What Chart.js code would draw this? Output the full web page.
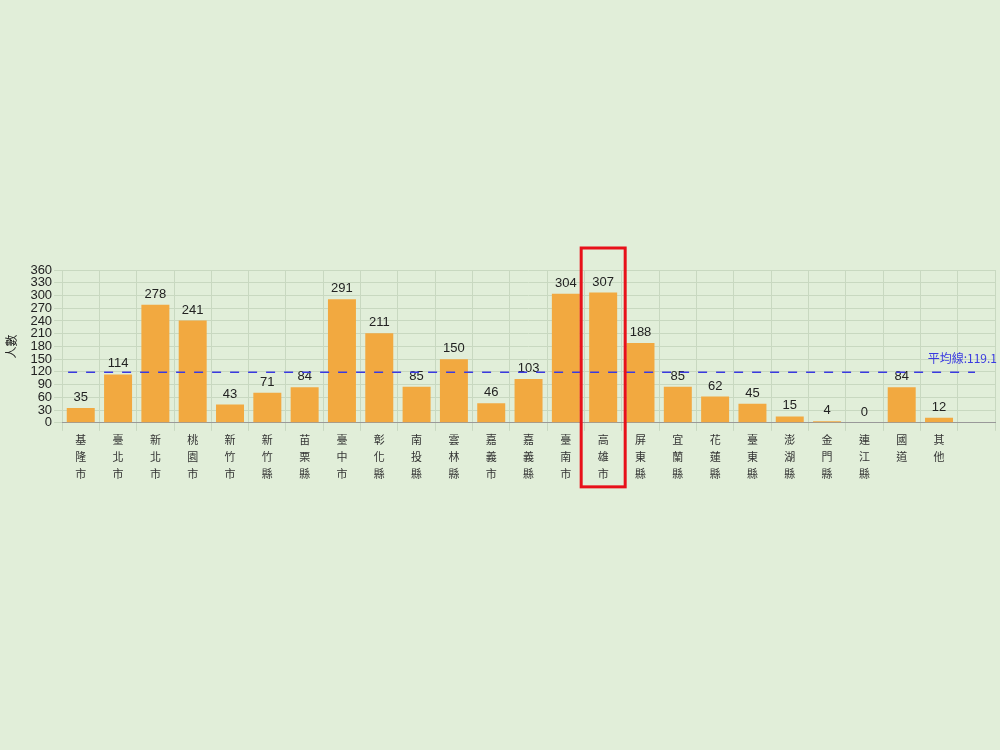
<!DOCTYPE html>
<html><head><meta charset="utf-8">
<script src="https://cdn.jsdelivr.net/npm/chart.js@4"></script>
<style>body{margin:0;background:#e1eed9;width:1000px;height:750px;overflow:hidden}
#w{position:absolute;left:0;top:240px;width:1000px;height:262px}</style></head>
<body><div id="w"><canvas id="c"></canvas></div>
<script>
const categories=["基隆市","臺北市","新北市","桃園市","新竹市","新竹縣","苗栗縣","臺中市","彰化縣","南投縣","雲林縣","嘉義市","嘉義縣","臺南市","高雄市","屏東縣","宜蘭縣","花蓮縣","臺東縣","澎湖縣","金門縣","連江縣","國道","其他",""];
const values=[35,114,278,241,43,71,84,291,211,85,150,46,103,304,307,188,85,62,45,15,4,0,84,12,null];
const average=119.1;
const yTicks=[0,30,60,90,120,150,180,210,240,270,300,330,360];
const highlightIndex=14;
const font="'Noto Sans CJK TC', 'Liberation Sans', sans-serif";
const extra={id:'extra',afterDatasetsDraw(ch){
  const {ctx,scales:{x,y}}=ch;
  ctx.save();
  ctx.fillStyle='#222';ctx.font="13px 'Liberation Sans', sans-serif";ctx.textAlign='center';
  values.forEach((v,i)=>{if(v==null)return;ctx.fillText(String(v),x.getPixelForValue(i),y.getPixelForValue(v)-7);});
  const ay=y.getPixelForValue(average);
  ctx.strokeStyle='#3a3ae0';ctx.lineWidth=1.5;ctx.setLineDash([9,9]);
  ctx.beginPath();ctx.moveTo(x.left+6,ay);ctx.lineTo(x.right-20,ay);ctx.stroke();
  ctx.setLineDash([]);ctx.fillStyle='#3a3ae0';ctx.textAlign='right';ctx.font="12px 'Noto Sans CJK TC', sans-serif";
  ctx.fillText('平均線:'+average,x.right+2,ay-9);
  const hx=x.getPixelForValue(highlightIndex);
  const top=y.getPixelForValue(360)-22, bot=y.getPixelForValue(0)+64;
  ctx.strokeStyle='#e8101a';ctx.lineWidth=3;
  ctx.strokeRect(hx-22,top,44,bot-top);
  ctx.restore();
}};
new Chart(document.getElementById('c'),{type:'bar',
 data:{labels:categories.map(s=>s.split('')),datasets:[{data:values,backgroundColor:'#f2a940',barPercentage:0.75,categoryPercentage:1}]},
 options:{responsive:true,maintainAspectRatio:false,animation:false,
  layout:{padding:{top:30,right:5,left:0,bottom:20}},
  plugins:{legend:{display:false},tooltip:{enabled:false}},
  scales:{
   x:{grid:{color:'#c8d8c0',offset:true},border:{color:'#999'},ticks:{color:'#333',padding:0,font:{family:font,size:11,lineHeight:1.55},maxRotation:0,autoSkip:false}},
   y:{min:0,max:360,afterBuildTicks(a){a.ticks=yTicks.map(v=>({value:v}));},grid:{color:'#c8d8c0'},border:{display:false},
      ticks:{color:'#222',padding:2,font:{family:"'Liberation Sans', sans-serif",size:13},autoSkip:false},
      title:{display:true,text:'人數',color:'#222',font:{family:font,size:12},padding:{top:4,bottom:10}}}
  }},plugins:[extra]});
</script></body></html>
